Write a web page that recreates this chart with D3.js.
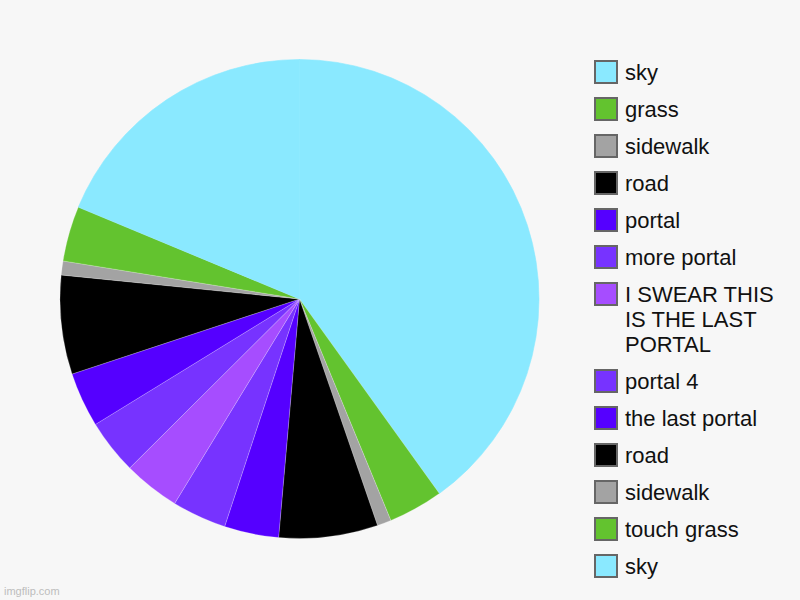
<!DOCTYPE html>
<html>
<head>
<meta charset="utf-8">
<script src="https://cdn.jsdelivr.net/npm/d3@7"></script>
<style>
  html, body { margin: 0; padding: 0; background: #f7f7f7; }
  svg { display: block; }
</style>
</head>
<body>
<svg width="800" height="600"></svg>
<script>
// slice labels, in drawing order (clockwise from 12 o'clock)
const labels = ['sky', 'grass', 'sidewalk', 'road', 'portal', 'more portal',
  'I SWEAR THIS IS THE LAST PORTAL', 'portal 4', 'the last portal', 'road',
  'sidewalk', 'touch grass', 'sky'];
// values
const values = [144.2, 13.3, 3.4, 24, 13.2, 13.2, 13.7, 13.3, 13.3, 24, 3.4, 13.4, 67.4];
const colors = ['#8ae9ff', '#63c32f', '#a3a3a3', '#000000', '#5500ff', '#7733ff',
  '#a64dff', '#7733ff', '#5500ff', '#000000', '#a3a3a3', '#63c32f', '#8ae9ff'];
// legend text, split into lines the way the chart wraps them
const legendLines = [['sky'], ['grass'], ['sidewalk'], ['road'], ['portal'], ['more portal'],
  ['I SWEAR THIS', 'IS THE LAST', 'PORTAL'], ['portal 4'], ['the last portal'], ['road'],
  ['sidewalk'], ['touch grass'], ['sky']];

const data = labels.map((l, i) => ({label: l, value: values[i], color: colors[i], lines: legendLines[i]}));

const svg = d3.select('svg');
svg.append('rect').attr('width', 800).attr('height', 600).attr('fill', '#f7f7f7');

const cx = 299.5, cy = 299, radius = 239.5;

const pie = d3.pie().sort(null).value(d => d.value);
const arc = d3.arc().innerRadius(0).outerRadius(radius);

svg.append('g')
  .attr('transform', `translate(${cx},${cy})`)
  .selectAll('path')
  .data(pie(data))
  .enter()
  .append('path')
  .attr('d', arc)
  .attr('fill', d => d.data.color)
  // faint light seams between slices, but none between the two sky slices
  .attr('stroke', d => d.data.label === 'sky' ? d.data.color : 'rgba(255,255,255,0.35)')
  .attr('stroke-width', 0.6)
  .attr('stroke-linejoin', 'round');

// legend
const fontSize = 22, lineH = 25, rowGap = 37;
const legend = svg.append('g').attr('font-family', 'Liberation Sans, Arial, sans-serif')
  .attr('font-size', fontSize).attr('fill', '#111');

let y = 72;
data.forEach(d => {
  const row = legend.append('g').attr('transform', `translate(0,${y})`);
  row.append('rect')
    .attr('x', 595).attr('y', -11)
    .attr('width', 22).attr('height', 22)
    .attr('fill', d.color)
    .attr('stroke', '#666').attr('stroke-width', 2);
  row.append('text')
    .selectAll('tspan')
    .data(d.lines)
    .enter()
    .append('tspan')
    .attr('x', 625)
    .attr('y', (t, i) => i * lineH)
    .attr('dy', '0.36em')
    .text(t => t);
  y += rowGap + (d.lines.length - 1) * lineH;
});

svg.append('text')
  .attr('x', 4).attr('y', 595)
  .attr('font-family', 'Liberation Sans, Arial, sans-serif')
  .attr('font-size', 11)
  .attr('fill', '#bdbdbd')
  .text('imgflip.com');
</script>
</body>
</html>
